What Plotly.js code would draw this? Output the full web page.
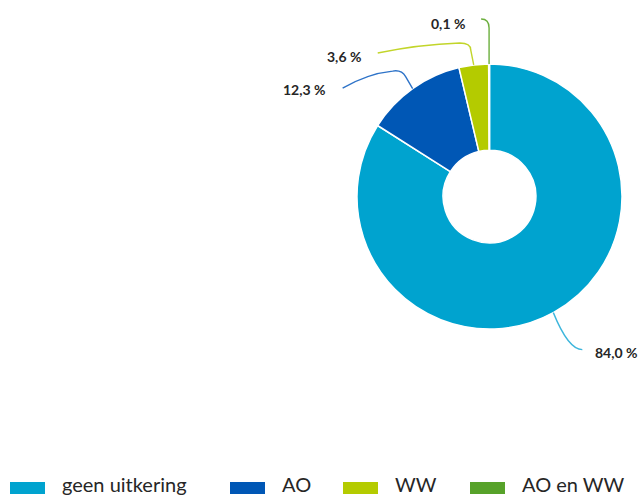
<!DOCTYPE html>
<html>
<head>
<meta charset="utf-8">
<script src="https://cdn.plot.ly/plotly-3.0.1.min.js"></script>
<style>html,body{margin:0;padding:0;background:#fff;}#chart{width:642px;height:497px;}</style>
</head>
<body>
<div id="chart"></div>
<script>
// ---- data ----
var categories = ["geen uitkering", "AO", "WW", "AO en WW"];
var values = [84.0, 12.3, 3.6, 0.1];
var valueLabels = ["84,0 %", "12,3 %", "3,6 %", "0,1 %"];

// ---- style / layout ----
var W = 642, H = 497;
var colors = ["#00A3CF", "#0057B5", "#B4CB00", "#57A22A"];
var lineColors = ["#3DB6DC", "#2E73C8", "#C2D52A", "#6CAF3E"];
var cx = 489.5, cy = 196.5, R = 132.5;
// leader geometry per slice, offsets (px) relative to the slice's outer mid-point
var leaders = [
  {c: [15, 37], e: [29, 37], lab: [40, 39.5], align: "left"},
  {p1: [-7, -12], c: [-11, -19], p2: [-20, -17.5], e: [-70, -0.5], lab: [-85, 1], align: "right"},
  {p1: [-3, -15], c: [-3, -22], p2: [-14, -22], e: [-96, -12], lab: [-111, -8], align: "right"},
  {p1: [0, -36], c: [0, -45], p2: [-8, -45], e: [-8, -45], lab: [-22, -41], align: "right"}
];
var legendX = [10, 230, 343, 470];

function X(px) { return px / W; }
function Y(py) { return 1 - py / H; }
function P(p) { return X(p[0]).toFixed(5) + "," + Y(p[1]).toFixed(5); }

var total = values.reduce(function (a, b) { return a + b; }, 0);
var shapes = [], annotations = [];
var cum = 0;
values.forEach(function (v, i) {
  var theta = 2 * Math.PI * (cum + v / 2) / total;
  cum += v;
  var ex = cx + R * Math.sin(theta), ey = cy - R * Math.cos(theta);
  var L = leaders[i];
  function off(o) { return [ex + o[0], ey + o[1]]; }
  var path = "M" + P([ex, ey]);
  if (L.p1) {
    path += " L" + P(off(L.p1)) + " Q" + P(off(L.c)) + " " + P(off(L.p2));
    if (L.e[0] !== L.p2[0] || L.e[1] !== L.p2[1]) {
      var mid = [(L.p2[0] + L.e[0]) / 2, L.p2[1] + (L.e[1] - L.p2[1]) * 0.15];
      path += " Q" + P(off(mid)) + " " + P(off(L.e));
    }
  } else {
    path += " Q" + P(off(L.c)) + " " + P(off(L.e));
  }
  shapes.push({type: "path", xref: "paper", yref: "paper", path: path,
    line: {color: lineColors[i], width: 1.4}, fillcolor: "rgba(0,0,0,0)"});
  var lp = off(L.lab);
  annotations.push({xref: "paper", yref: "paper", x: X(lp[0]), y: Y(lp[1]),
    xanchor: L.align, yanchor: "middle", showarrow: false, text: "<b>" + valueLabels[i] + "</b>",
    font: {family: "Lato, 'Open Sans', sans-serif", size: 14, color: "#262626"}});
});

// custom legend
categories.forEach(function (c, i) {
  shapes.push({type: "rect", xref: "paper", yref: "paper",
    x0: X(legendX[i]), x1: X(legendX[i] + 35), y0: Y(494), y1: Y(482),
    line: {width: 0}, fillcolor: colors[i]});
  annotations.push({xref: "paper", yref: "paper", x: X(legendX[i] + 51), y: Y(497),
    xanchor: "left", yanchor: "bottom", borderpad: 0, showarrow: false, text: c,
    font: {family: "Lato, 'Open Sans', sans-serif", size: 20, color: "#262626"}});
});

var trace = {
  type: "pie",
  labels: categories,
  values: values,
  sort: false,
  direction: "clockwise",
  rotation: 0,
  hole: 0.35,
  textinfo: "none",
  hoverinfo: "label+percent",
  marker: {colors: colors, line: {color: "#ffffff", width: 1.5}},
  domain: {x: [X(cx - R), X(cx + R)], y: [Y(cy + R), Y(cy - R)]},
  showlegend: false
};

var layout = {
  width: W, height: H,
  margin: {l: 0, r: 0, t: 0, b: 0, pad: 0},
  paper_bgcolor: "#ffffff",
  showlegend: false,
  shapes: shapes,
  annotations: annotations
};

Plotly.newPlot("chart", [trace], layout, {displayModeBar: false, staticPlot: true});
</script>
</body>
</html>
